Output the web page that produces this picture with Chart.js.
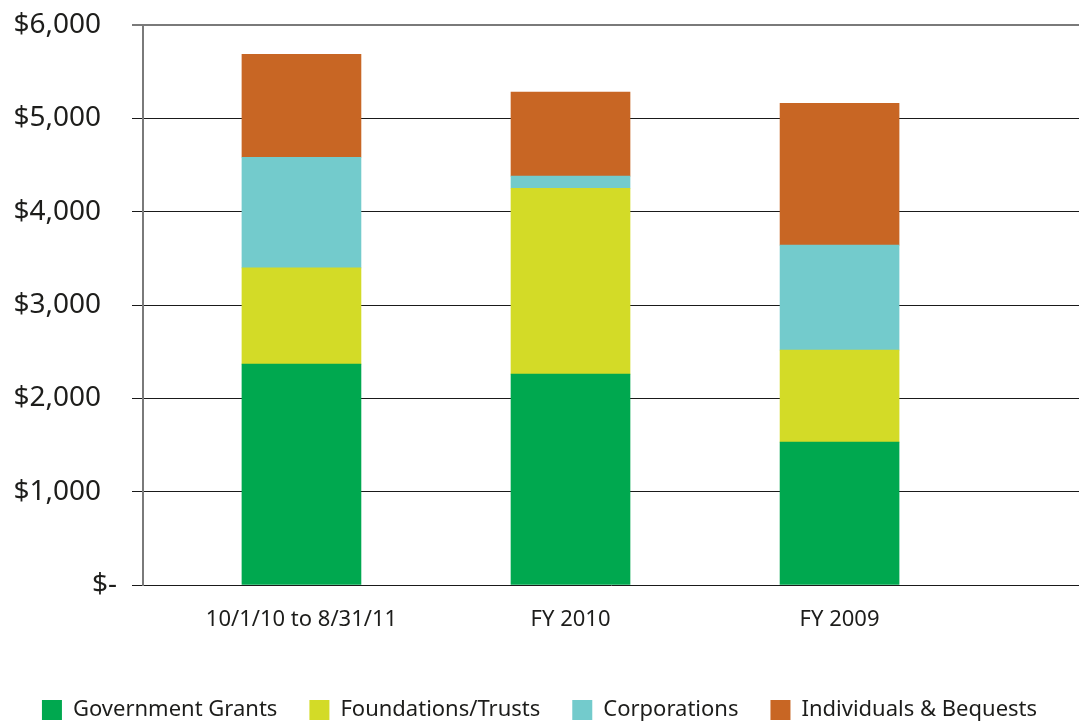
<!DOCTYPE html>
<html>
<head>
<meta charset="utf-8">
<script src="https://cdn.jsdelivr.net/npm/chart.js@4.4.1/dist/chart.umd.min.js"></script>
<style>
  html, body { margin: 0; padding: 0; background: #fff; }
  canvas { display: block; }
</style>
</head>
<body>
<canvas id="fundingchart" width="1079" height="724"></canvas>
<script>
// values in $ thousands
const categories = ['10/1/10 to 8/31/11', 'FY 2010', 'FY 2009'];
const governmentGrants = [2367, 2260, 1531];
const foundationsTrusts = [1031, 1991, 986];
const corporations = [1185, 129, 1124];
const individualsBequests = [1103, 900, 1521];
const yTickValues = [0, 1000, 2000, 3000, 4000, 5000, 6000];

const textColor = '#1d1d1b';
const fontFamily = '"Noto Sans", "DejaVu Sans", sans-serif';

const toPoints = arr => arr.map((v, i) => ({ x: i, y: v }));

let ctx = document.getElementById('fundingchart').getContext('2d');

let fundingChart = new Chart(ctx, {
    type: 'bar',
    data: {
        datasets: [
            { label: 'Government Grants', data: toPoints(governmentGrants), backgroundColor: '#00a84f' },
            { label: 'Foundations/Trusts', data: toPoints(foundationsTrusts), backgroundColor: '#d3db27' },
            { label: 'Corporations', data: toPoints(corporations), backgroundColor: '#73cbcc' },
            { label: 'Individuals & Bequests', data: toPoints(individualsBequests), backgroundColor: '#c86624' }
        ]
    },
    options: {
        responsive: false,
        animation: false,
        devicePixelRatio: 1,
        barThickness: 119,
        layout: {
            padding: { top: 25, right: 0, bottom: -7, left: 0 }
        },
        plugins: {
            tooltip: { enabled: false },
            legend: {
                display: true,
                position: 'bottom',
                labels: {
                    boxWidth: 20,
                    boxHeight: 20,
                    padding: 32,
                    color: textColor,
                    font: { family: fontFamily, size: 22 }
                }
            }
        },
        scales: {
            x: {
                type: 'linear',
                stacked: true,
                offset: false,
                min: -0.589,
                max: 2.890,
                afterBuildTicks: scale => {
                    scale.ticks = categories.map((c, i) => ({ value: i }));
                },
                afterFit: scale => { scale.height = 82; },
                grid: { display: false, drawTicks: false, offset: false },
                border: { display: false },
                ticks: {
                    padding: 22,
                    color: textColor,
                    font: { family: fontFamily, size: 22 },
                    callback: v => categories[v] !== undefined ? categories[v] : ''
                }
            },
            y: {
                stacked: true,
                min: 0,
                max: 6000,
                afterBuildTicks: scale => {
                    scale.ticks = yTickValues.map(v => ({ value: v }));
                },
                afterFit: scale => {
                    scale.width = 143;
                    scale.paddingTop = 0;
                    scale.paddingBottom = 0;
                },
                grid: {
                    color: c => (c.tick && c.tick.value === 6000) ? '#7a7a7a' : '#1a1a1a',
                    lineWidth: c => (c.tick && c.tick.value === 6000) ? 2 : 1,
                    tickLength: 11,
                    drawTicks: true
                },
                border: { display: true, color: '#7a7a7a', width: 2 },
                ticks: {
                    padding: 15,
                    color: textColor,
                    font: { family: fontFamily, size: 28 },
                    callback: v => v === 0 ? '$-' : '$' + v.toLocaleString('en-US') + '\u2007'
                }
            }
        }
    }
});
</script>
</body>
</html>
